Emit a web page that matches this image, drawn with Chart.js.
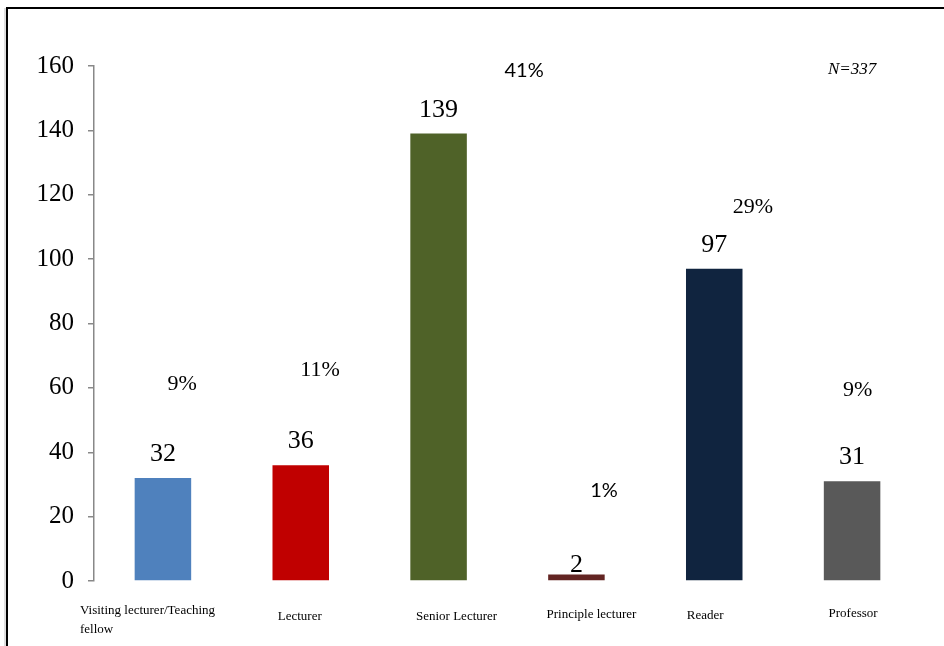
<!DOCTYPE html>
<html>
<head>
<meta charset="utf-8">
<script src="https://cdn.jsdelivr.net/npm/chart.js@4.4.0/dist/chart.umd.min.js"></script>
<style>
html,body{margin:0;padding:0;background:#fff;}
#wrap{position:relative;width:944px;height:646px;}
canvas{display:block;}
</style>
</head>
<body>
<div id="wrap"><canvas id="c" width="944" height="646"></canvas></div>
<script>
// ---- data ----
const categories = ['Visiting lecturer/Teaching fellow', 'Lecturer', 'Senior Lecturer', 'Principle lecturer', 'Reader', 'Professor'];
const counts = [32, 36, 139, 2, 97, 31];
const percentLabels = ['9%', '11%', '41%', '1%', '29%', '9%'];
const barColors = ['#4F81BD', '#C00000', '#4F6228', '#632523', '#10243F', '#595959'];
const yTicks = [0, 20, 40, 60, 80, 100, 120, 140, 160];
const sampleNote = 'N=337';

// label placement (annotation anchors, not data)
const pctAnchorDx = [0.14, 0.14, 0.62, 0.20, 0.28, 0.04];   // fraction of category width
const pctAnchorY = [61, 65.6, 158.7, 28, 116, 59.4];        // in value units
const pctFonts = ['serif', 'serif', 'sans', 'sans', 'serif', 'serif'];
const valueLabelGap = [17, 17, 17, 3, 17, 17];
const xLabelDx = [-83, -1, 18, 15, -9, 1];
const xLabelY = [611, 617, 617, 615, 616, 614];

const SERIF = '"Liberation Serif", "Times New Roman", serif';
const SANS = 'Lato, "Liberation Sans", sans-serif';

const overlay = {
  id: 'overlay',
  afterDatasetsDraw(chart) {
    const ctx = chart.ctx;
    const x = chart.scales.x, y = chart.scales.y;
    const meta = chart.getDatasetMeta(0);
    const catW = (x.right - x.left) / categories.length;
    ctx.save();
    ctx.fillStyle = '#000';
    // value labels
    ctx.font = '26px ' + SERIF;
    ctx.textAlign = 'center';
    ctx.textBaseline = 'alphabetic';
    meta.data.forEach((bar, i) => {
      ctx.fillText(String(counts[i]), bar.x, y.getPixelForValue(counts[i]) - valueLabelGap[i]);
    });
    // percent labels
    ctx.textBaseline = 'middle';
    percentLabels.forEach((p, i) => {
      ctx.font = pctFonts[i] === 'serif' ? '22px ' + SERIF : '20px ' + SANS;
      const px = x.getPixelForValue(i) + pctAnchorDx[i] * catW;
      const py = y.getPixelForValue(pctAnchorY[i]);
      ctx.fillText(p, px, py);
    });
    // x category labels
    ctx.font = '13px ' + SERIF;
    categories.forEach((c, i) => {
      const cx = x.getPixelForValue(i) + xLabelDx[i];
      if (i === 0) {
        ctx.textAlign = 'left';
        ctx.fillText('Visiting lecturer/Teaching', cx, xLabelY[i]);
        ctx.fillText('fellow', cx, xLabelY[i] + 19);
      } else {
        ctx.textAlign = 'center';
        ctx.fillText(c, cx, xLabelY[i]);
      }
    });
    // N note
    ctx.font = 'italic 17px ' + SERIF;
    ctx.textAlign = 'center';
    ctx.fillText(sampleNote, x.getPixelForValue(5), y.getPixelForValue(159));
    // frame
    ctx.strokeStyle = '#bdbdbd';
    ctx.lineWidth = 1;
    ctx.beginPath();
    ctx.moveTo(5, 646); ctx.lineTo(5, 8);
    ctx.stroke();
    ctx.strokeStyle = '#000';
    ctx.lineWidth = 2;
    ctx.beginPath();
    ctx.moveTo(7, 646); ctx.lineTo(7, 8); ctx.lineTo(944, 8);
    ctx.stroke();
    ctx.restore();
  }
};

new Chart(document.getElementById('c'), {
  type: 'bar',
  data: {
    labels: categories,
    datasets: [{
      data: counts,
      backgroundColor: barColors,
      borderWidth: 0,
      barPercentage: 0.41,
      categoryPercentage: 1.0
    }]
  },
  options: {
    responsive: false,
    animation: false,
    devicePixelRatio: 1,
    layout: { padding: { left: 0, right: 23, top: 66, bottom: 57 } },
    plugins: { legend: { display: false }, tooltip: { enabled: false } },
    scales: {
      x: {
        grid: { display: false },
        border: { display: false },
        ticks: { display: false }
      },
      y: {
        min: 0, max: 160,
        afterFit(scale) { scale.width = 94; },
        afterBuildTicks(scale) { scale.ticks = yTicks.map(v => ({ value: v })); },
        grid: { drawOnChartArea: false, color: '#888888', lineWidth: 1.5, tickLength: 6 },
        border: { display: true, color: '#888888', width: 1.5 },
        ticks: {
          color: '#000',
          padding: 14,
          font: { family: SERIF, size: 25 }
        }
      }
    }
  },
  plugins: [overlay]
});
</script>
</body>
</html>
